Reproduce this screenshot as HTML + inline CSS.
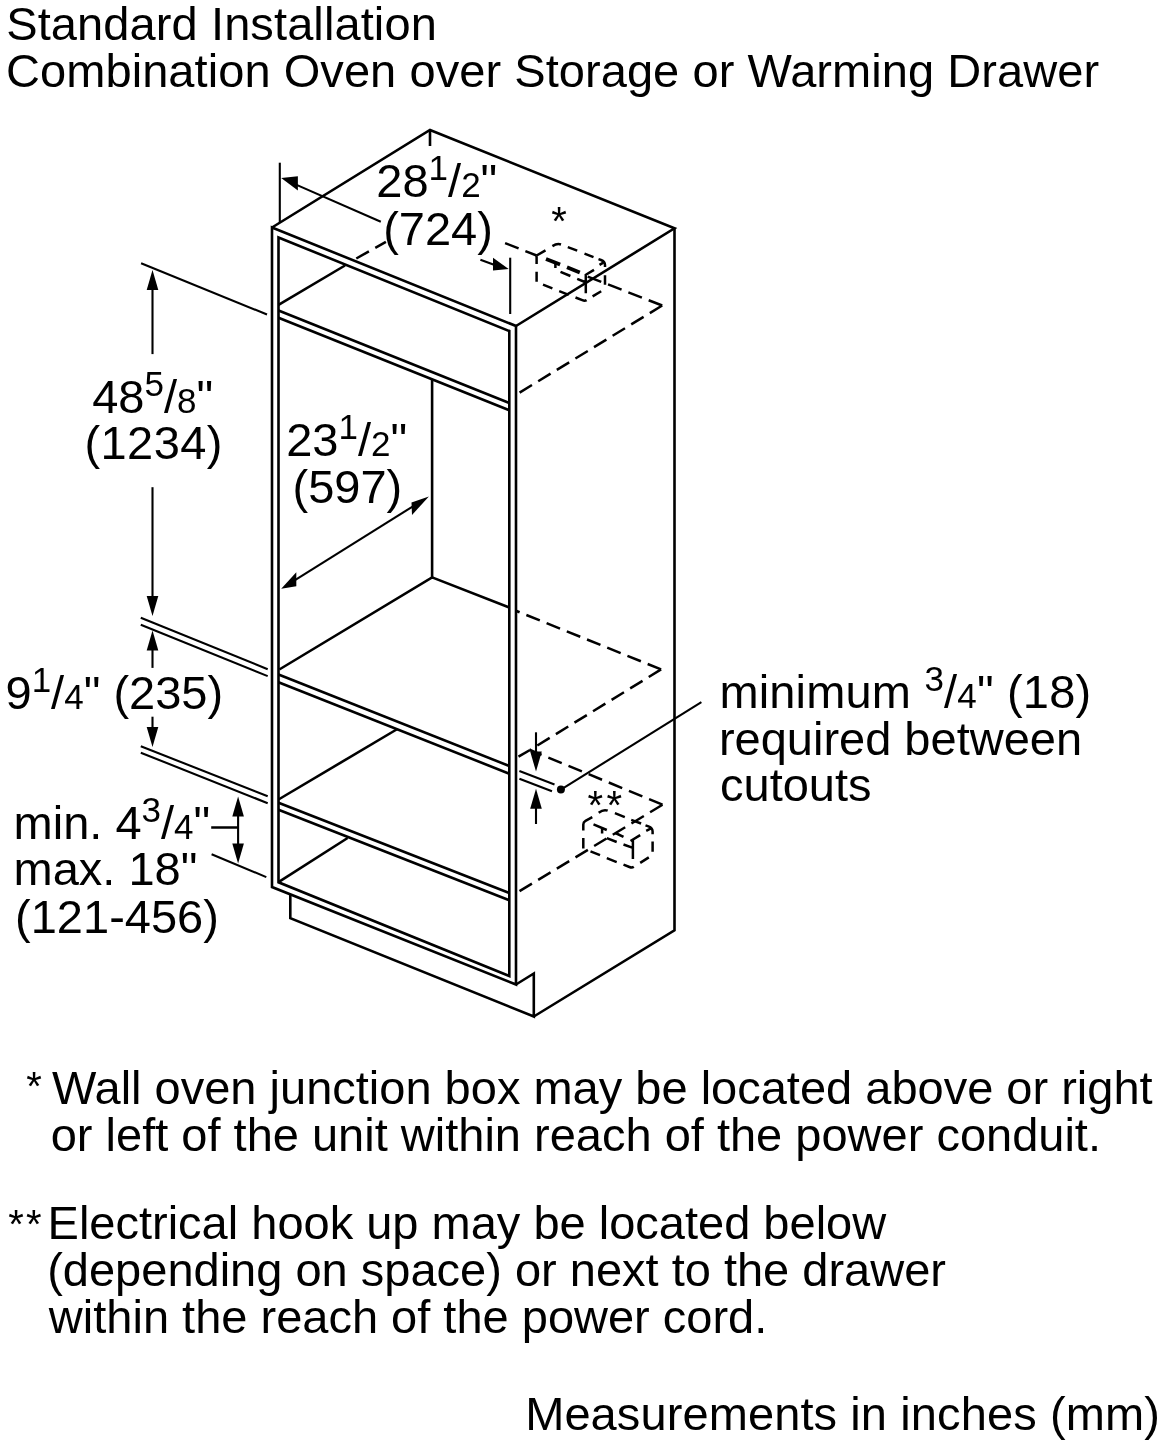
<!DOCTYPE html>
<html><head><meta charset="utf-8"><title>Standard Installation</title>
<style>
html,body{margin:0;padding:0;background:#fff}
svg{display:block;will-change:transform}
text{font-family:"Liberation Sans",Arial,Helvetica,sans-serif;font-size:47px;fill:#000}
path{fill:none;stroke:#000;stroke-linejoin:miter;stroke-linecap:butt}
.m{stroke-width:2.6}
.d{stroke-width:2.5;stroke-dasharray:14.5 7.3}
.bk{stroke-width:3.8}
.t{stroke-width:2.1}
.m2{stroke-width:2.5}
.a{fill:#000;stroke:none}
</style></head>
<body>
<svg width="1168" height="1448" viewBox="0 0 1168 1448">
<rect width="1168" height="1448" fill="#fff"/>
<g id="drawing">
<path class="m" d="M272,227.5 L516,326 L516,984.5 L272,887 Z"/>
<path class="m" d="M278.5,237.5 L509.3,331 L509.3,976 L278.5,882.3 Z"/>
<path class="m" d="M272,227.5 L430,130 L674.5,228.3 L516,326"/>
<path class="m" d="M674.5,228.3 L674.5,930.3 L533.8,1016.5"/>
<path class="m" d="M516,984.5 L533.8,973.5 L533.8,1016.5 L290.3,918.2 L290.3,895"/>
<path class="m" d="M278.5,310.5 L509.3,403"/>
<path class="m" d="M278.5,317.8 L509.3,410.2"/>
<path class="m" d="M278.5,674.5 L509.3,766"/>
<path class="m" d="M278.5,682.2 L509.3,773.7"/>
<path class="m" d="M278.5,802.8 L509.3,893"/>
<path class="m" d="M278.5,809.7 L509.3,900.3"/>
<path class="m" d="M278.5,304.8 L345,265.5"/>
<path class="m" d="M432.1,379.5 L432.1,577.4"/>
<path class="m" d="M279.3,669.5 L432.1,577.4 L509.3,607.5"/>
<path class="m" d="M278.5,799.5 L397.4,729"/>
<path class="m" d="M278.5,882.2 L347.6,838"/>
<path class="m" d="M518.5,756.7 L530,750"/>
<path class="d" d="M356.3,258.5 L385.9,241.8"/>
<path class="m" d="M430,130 L430,146"/>
<path class="d" stroke-dasharray="14 8.4 12 9" d="M505.1,243.1 L536.6,255.5"/>
<path class="d" d="M662.2,305.5 L516.5,394.5"/>
<path class="d" d="M661.1,669.4 L516.5,611"/>
<path class="d" d="M661.1,669.4 L530,750"/>
<path class="d" d="M662.5,804.7 L530,750"/>
<path class="d" d="M662.5,804.7 L517,892.7"/>
<path class="t" d="M519.4,771 L554.5,784.5"/>
<path class="t" d="M519.4,778.7 L552,791.3"/>
<path class="m2" d="M536.6,255.5 L536.6,264.1 M536.6,271.8 L536.6,281.7 M543,284.7 L552.4,288.4 M559.2,291.1 L568.7,294.8 M575.5,297.5 L582.3,300.2 Q584.8,301.2 586.6,300.1 M592.6,296.4 L601.2,291.2 M605,275.2 L605,284.7 M598.5,259.1 L601,260 Q605,261.6 605,265 L605,267.1 M584.5,253.6 L593.5,257.1 M567.8,247.1 L577.2,250.7 M552.4,246.1 Q557,243.2 561,244.5 M536.6,255.5 L545.5,250.4 M585.8,274 L585.8,293.2 M585.8,274.8 L594,269.9 M599.5,264.9 L602.9,262.9 M555.4,264 L555.4,268 M560.5,271.8 L570.4,276 M577.2,278.8 L584.9,282"/>
<path class="bk" d="M546,259 L560.1,264.6 M567,267.3 L579.8,272.5"/>
<path class="d" d="M662.2,305.5 L586.6,276.1"/>
<path class="m2" d="M592.3,817.1 L585.5,820.8 Q583.3,822 583.3,824.5 L583.3,830.4 M583.3,838.1 L583.3,848.4 M590.5,851.4 L600,855.2 M606.8,858.2 L616.7,862.1 M623.5,864.6 L629.5,867 Q632,868 633.8,866.8 M640.2,862.9 L648.8,857.4 M652.6,841.5 L652.6,851.8 M645.5,825.3 L648.5,826.4 Q652.6,828 652.6,831.5 L652.6,834.2 M646.2,830.8 L650.5,828.7 M614.9,813.2 L624.8,817.1 M631.2,819.8 L641.1,823.5 M598.7,812.8 Q603.5,809 607.7,810.7 M632.9,840.2 L632.9,859.1 M630.5,841 L640.2,835.1 M593.5,824.4 L606.8,830 M602.1,829.1 L602.1,833.4 M615.4,833 L623.5,836.8 M606.8,838.1 L616.7,842 M623.5,844.5 L632.9,847.9"/>
</g>
<g id="dims">
<path class="t" d="M279.8,162.7 L279.8,223"/>
<path class="t" d="M510.2,257.7 L510.2,314"/>
<path class="t" d="M380.8,221.7 L296,184.6"/>
<path class="a" d="M281.2,178.1 L297.9,176.3 L297.9,190.4 Z"/>
<path class="t" d="M480.4,259.8 L494,264.8"/>
<path class="a" d="M508.7,269 L493,257.7 L493,270.6 Z"/>
<path class="t" d="M141.1,263.2 L267,314.5"/>
<path class="a" d="M152.5,270.1 L158.3,290.1 L146.7,290.1 Z"/>
<path class="t" d="M152.5,354.1 L152.5,278.1"/>
<path class="a" d="M152.5,616.0 L146.7,596.0 L158.3,596.0 Z"/>
<path class="t" d="M152.5,487.2 L152.5,608.0"/>
<path class="t" d="M140.8,617.8 L267.7,669.2"/>
<path class="t" d="M140.8,624.7 L267.7,676.1"/>
<path class="a" d="M152.5,630.6 L158.3,650.6 L146.7,650.6 Z"/>
<path class="t" d="M152.5,667.9 L152.5,638.6"/>
<path class="a" d="M152.5,747.0 L146.7,727.0 L158.3,727.0 Z"/>
<path class="t" d="M152.5,716.7 L152.5,739.0"/>
<path class="t" d="M140.8,746.2 L267.7,796.3"/>
<path class="t" d="M140.8,752.7 L267.7,803.2"/>
<path class="t" style="stroke-width:2.5" d="M211.2,827.5 L238,827.5"/>
<path class="a" d="M238.1,796.6 L243.9,816.6 L232.3,816.6 Z"/>
<path class="a" d="M238.1,863.4 L232.3,843.4 L243.9,843.4 Z"/>
<path class="t" d="M238.1,804.6 L238.1,855.4"/>
<path class="t" d="M211.6,854.3 L266.3,877.1"/>
<path class="t" d="M413,506.3 L295,580.2"/>
<path class="a" d="M428.9,496.4 L411.5,502.6 L412,515 Z"/>
<path class="a" d="M281.2,588.8 L296.3,572.2 L296.3,586.3 Z"/>
<path class="a" d="M536.0,771.6 L530.2,751.6 L541.8,751.6 Z"/>
<path class="t" d="M536,732.3 L536.0,763.6"/>
<path class="a" d="M536.0,788.8 L541.8,808.8 L530.2,808.8 Z"/>
<path class="t" d="M536,824 L536.0,796.8"/>
<path class="t" d="M560.9,789.6 L701.4,702.2"/>
<circle cx="560.9" cy="789.6" r="4" fill="#000"/>
</g>
<g id="labels">
<text x="6.27" y="40.1" letter-spacing="0.1">Standard Installation</text>
<text x="6.01" y="87.1" letter-spacing="0.065">Combination Oven over Storage or Warming Drawer</text>
<text x="376.34" y="197.3">28<tspan font-size="35" dy="-17">1</tspan><tspan dy="17">/</tspan><tspan font-size="35">2</tspan>"</text>
<text x="383.19" y="244.5">(724)</text>
<text x="92.22" y="412.7">48<tspan font-size="35" dy="-17">5</tspan><tspan dy="17">/</tspan><tspan font-size="35">8</tspan>"</text>
<text x="84.39" y="459" letter-spacing="0.45">(1234)</text>
<text x="286.14" y="455.5">23<tspan font-size="35" dy="-17">1</tspan><tspan dy="17">/</tspan><tspan font-size="35">2</tspan>"</text>
<text x="292.49" y="502.5">(597)</text>
<text x="5.5" y="708.5">9<tspan font-size="35" dy="-17">1</tspan><tspan dy="17">/</tspan><tspan font-size="35">4</tspan>" (235)</text>
<text x="13.58" y="839.1">min. 4<tspan font-size="35" dy="-17">3</tspan><tspan dy="17">/</tspan><tspan font-size="35">4</tspan>"</text>
<text x="13.58" y="885.3">max. 18"</text>
<text x="15.09" y="932.8">(121-456)</text>
<text x="719.38" y="708.3" letter-spacing="0.17">minimum <tspan font-size="35" dy="-17">3</tspan><tspan dy="17">/</tspan><tspan font-size="35">4</tspan>" (18)</text>
<text x="718.88" y="755">required between</text>
<text x="720.0" y="801">cutouts</text>
<text x="551.36" y="234.7" style="font-size:40px">*</text>
<text x="587.56" y="819.4" letter-spacing="3.5" style="font-size:40px">**</text>
<text x="26.36" y="1100.1" style="font-size:40px">*</text>
<text x="51.89" y="1104">Wall oven junction box may be located above or right</text>
<text x="50.73" y="1151">or left of the unit within reach of the power conduit.</text>
<text x="8.36" y="1238" letter-spacing="2" style="font-size:40px">**</text>
<text x="47.54" y="1239">Electrical hook up may be located below</text>
<text x="47.19" y="1286">(depending on space) or next to the drawer</text>
<text x="48.87" y="1333">within the reach of the power cord.</text>
<text x="525.14" y="1429.5" letter-spacing="0.1">Measurements in inches (mm)</text>
</g>
</svg>
</body></html>
